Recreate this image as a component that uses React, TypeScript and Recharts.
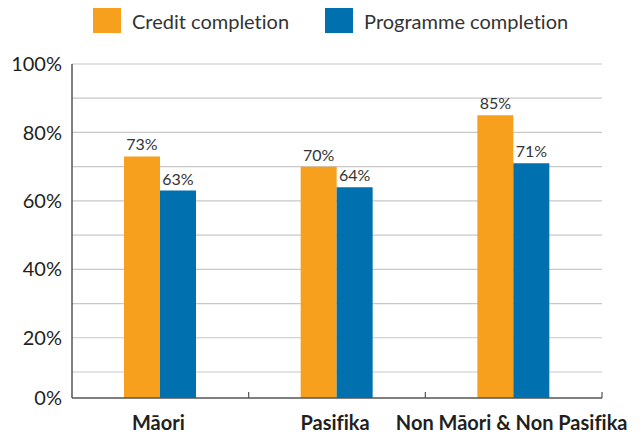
import React from 'react';
import { BarChart, Bar, XAxis, YAxis, CartesianGrid, Legend, LabelList } from 'recharts';

const categories = ['Māori', 'Pasifika', 'Non Māori & Non Pasifika'];
const creditCompletion = [73, 70, 85];
const programmeCompletion = [63, 64, 71];
const seriesNames = ['Credit completion', 'Programme completion'];
const seriesColors = ['#F6A01E', '#0071AE'];
const yAxisMin = 2.4;
const yTickValues = [yAxisMin, 20, 40, 60, 80, 100];
const gridValues = [10, 20, 30, 40, 50, 60, 70, 80, 90, 100];

const data = categories.map((c, i) => ({
  category: c,
  credit: creditCompletion[i],
  programme: programmeCompletion[i],
}));

const FONT = 'Lato, "Open Sans", sans-serif';
const WIDTH = 643;
const HEIGHT = 435;
const MARGIN = { top: 64, right: 41, bottom: 0, left: 0 };
const Y_AXIS_WIDTH = 72;
const PLOT_WIDTH = WIDTH - MARGIN.left - MARGIN.right - Y_AXIS_WIDTH;

const CategoryTick = (props: any) => {
  const { x, y, payload } = props;
  const half = PLOT_WIDTH / categories.length / 2;
  return (
    <g>
      <line x1={x + half} x2={x + half} y1={y} y2={y - 6} stroke="#555" strokeWidth={1.2} />
      <text
        x={x - 2}
        y={y + 32}
        textAnchor="middle"
        fontFamily={FONT}
        fontWeight={700}
        fontSize={20}
        fill="#231f20"
        style={{ fontVariantLigatures: 'none' }}
      >
        {payload.value}
      </text>
    </g>
  );
};

const LegendContent = () => (
  <div style={{ display: 'flex', alignItems: 'center', fontFamily: FONT, fontSize: 20, color: '#333', fontVariantLigatures: 'none' }}>
    {seriesNames.map((n, i) => (
      <div key={n} style={{ display: 'flex', alignItems: 'center', marginRight: i === 0 ? 36 : 0 }}>
        <span style={{ display: 'inline-block', width: 28, height: 25, background: seriesColors[i], marginRight: 11 }} />
        <span>{n}</span>
      </div>
    ))}
  </div>
);

export default function App() {
  return (
    <div style={{ position: 'absolute', left: 0, top: 0, background: '#fff' }}>
      <BarChart width={WIDTH} height={HEIGHT} data={data} margin={MARGIN} barGap={0}>
        <Legend
          layout="vertical"
          align="center"
          verticalAlign="middle"
          content={<LegendContent />}
          wrapperStyle={{ position: 'absolute', left: 93, top: 8, width: 520 }}
        />
        <CartesianGrid vertical={false} horizontalValues={gridValues} stroke="#c8c8c8" strokeWidth={1.2} />
        <XAxis
          dataKey="category"
          height={37}
          interval={0}
          tickSize={0}
          tickMargin={0}
          tickLine={false}
          axisLine={{ stroke: '#555', strokeWidth: 1.5 }}
          tick={<CategoryTick />}
        />
        <YAxis
          width={Y_AXIS_WIDTH}
          domain={[yAxisMin, 100]}
          ticks={yTickValues}
          allowDataOverflow
          tickSize={0}
          tickMargin={10}
          tickLine={false}
          axisLine={{ stroke: '#555', strokeWidth: 1.5 }}
          tickFormatter={(v: number) => `${v === yAxisMin ? 0 : v}%`}
          tick={{ fontFamily: FONT, fontSize: 20, fill: '#231f20' }}
        />
        <Bar dataKey="credit" name={seriesNames[0]} fill={seriesColors[0]} barSize={36} isAnimationActive={false}>
          <LabelList dataKey="credit" position="top" offset={6} formatter={(v: number) => `${v}%`} style={{ fontFamily: FONT, fontSize: 16, fill: '#333' }} />
        </Bar>
        <Bar dataKey="programme" name={seriesNames[1]} fill={seriesColors[1]} barSize={36} isAnimationActive={false}>
          <LabelList dataKey="programme" position="top" offset={6} formatter={(v: number) => `${v}%`} style={{ fontFamily: FONT, fontSize: 16, fill: '#333' }} />
        </Bar>
      </BarChart>
    </div>
  );
}
